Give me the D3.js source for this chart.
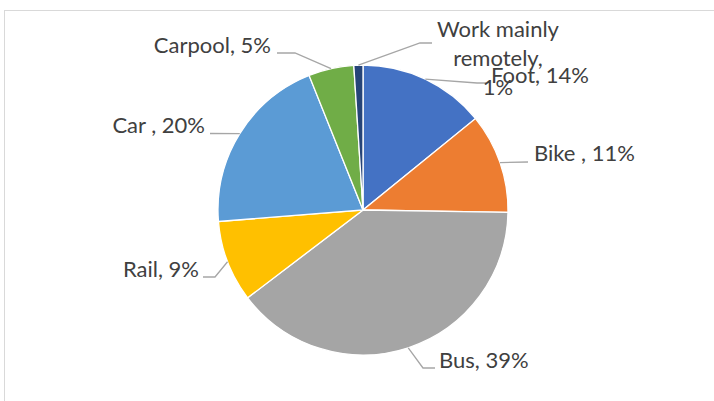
<!DOCTYPE html>
<html>
<head>
<meta charset="utf-8">
<script src="https://cdn.jsdelivr.net/npm/d3@7"></script>
<style>
  html, body { margin: 0; padding: 0; background: #fff; overflow: hidden; }
</style>
</head>
<body>
<div id="chart"></div>
<script>
// commute mode shares, clockwise from 12 o'clock
const categories = ["Foot", "Bike ", "Bus", "Rail", "Car ", "Carpool", "Work mainly remotely"];
const shares = [14, 11, 39, 9, 20, 5, 1];
const colors = ["#4472C4", "#ED7D31", "#A5A5A5", "#FFC000", "#5B9BD5", "#70AD47", "#264478"];

// where each data label sits (text x / baseline y, elbow of leader, end of leader)
const labelPos = {
    "Foot": { x: 491, y: 83, anchor: "start", elbow: [477, 83], end: [486, 83] },
    "Bike ": { x: 534, y: 161, anchor: "start", elbow: [528, 162], end: [528, 162] },
    "Bus": { x: 439, y: 368, anchor: "start", elbow: [423, 368], end: [435, 368] },
    "Rail": { x: 199, y: 277, anchor: "end", elbow: [215, 277], end: [203, 277] },
    "Car ": { x: 205, y: 133, anchor: "end", elbow: [210, 133.5], end: [210, 133.5] },
    "Carpool": { x: 271, y: 53, anchor: "end", elbow: [295, 53], end: [277, 53] },
    "Work mainly remotely": { x: 498, y: 37, anchor: "middle", elbow: [420, 43], end: [432, 43],
        lines: ["Work mainly", "remotely,", "1%"] }
};

const width = 714, height = 401;
const cx = 363, cy = 210, radius = 145;

const svg = d3.select("#chart")
    .append("svg")
    .attr("width", width)
    .attr("height", height);

// chart area frame
svg.append("rect")
    .attr("x", 4.5)
    .attr("y", 10.5)
    .attr("width", 800)
    .attr("height", 500)
    .attr("fill", "#fff")
    .attr("stroke", "#d9d9d9");

const data = categories.map((c, i) => ({ category: c, value: shares[i], color: colors[i] }));

const pie = d3.pie()
    .value(d => d.value)
    .sort(null);

const arc = d3.arc().innerRadius(0).outerRadius(radius);
const edgeArc = d3.arc().innerRadius(radius).outerRadius(radius);

const arcs = pie(data);

const g = svg.append("g").attr("transform", `translate(${cx},${cy})`);

g.selectAll("path.slice")
    .data(arcs)
    .enter()
    .append("path")
    .attr("class", "slice")
    .attr("d", arc)
    .attr("fill", d => d.data.color)
    .attr("stroke", "#fff")
    .attr("stroke-width", 1.3);

// leader lines
const leaders = svg.append("g").attr("id", "leaders");
arcs.forEach(d => {
    const p = labelPos[d.data.category];
    const c = edgeArc.centroid(d);
    const pts = [[cx + c[0], cy + c[1]], p.elbow, p.end];
    leaders.append("path")
        .attr("d", d3.line()(pts))
        .attr("fill", "none")
        .attr("stroke", "#a6a6a6")
        .attr("stroke-width", 1.3);
});

// data labels
const labels = svg.append("g").attr("id", "labels")
    .style("font-family", "Lato, 'Open Sans', sans-serif")
    .style("font-size", "22px")
    .attr("fill", "#404040");

arcs.forEach(d => {
    const p = labelPos[d.data.category];
    const t = labels.append("text")
        .attr("x", p.x)
        .attr("y", p.y)
        .attr("text-anchor", p.anchor);
    if (p.lines) {
        p.lines.forEach((ln, i) => {
            t.append("tspan")
                .attr("x", p.x)
                .attr("dy", i === 0 ? 0 : 29)
                .text(ln);
        });
    } else {
        t.text(d.data.category + ", " + d.data.value + "%");
    }
});
</script>
</body>
</html>
